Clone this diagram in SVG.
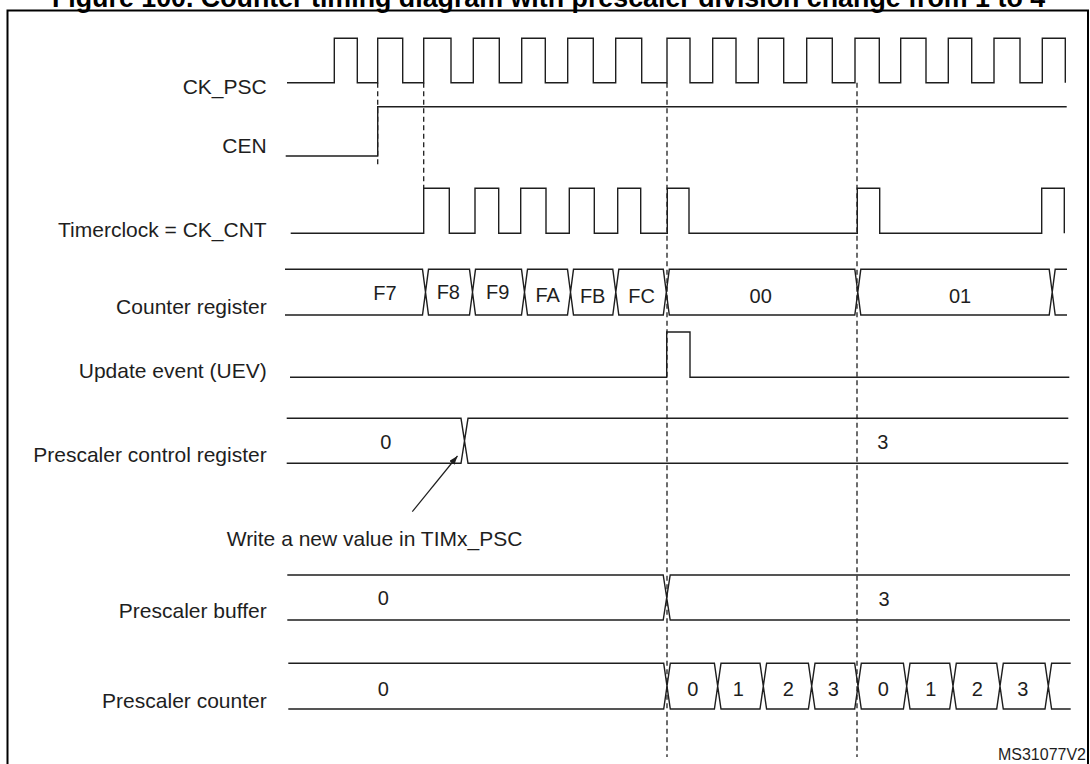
<svg xmlns="http://www.w3.org/2000/svg" width="1090" height="764" viewBox="0 0 1090 764">
<style>
  .sig { fill: none; stroke: #1e1e1e; stroke-width: 1.4; stroke-linejoin: miter; }
  .guide { fill: none; stroke: #1e1e1e; stroke-width: 1.3; stroke-dasharray: 5 3.5; }
  .name { font-family: "Liberation Sans", Arial, sans-serif; font-size: 21px; fill: #1e1e1e; text-anchor: end; }
  .val { font-family: "Liberation Sans", Arial, sans-serif; font-size: 20px; fill: #1e1e1e; text-anchor: middle; }
  .note { font-family: "Liberation Sans", Arial, sans-serif; font-size: 21px; fill: #1e1e1e; }
  .title { font-family: "Liberation Sans", Arial, sans-serif; font-size: 26.8px; font-weight: bold; fill: #000; text-anchor: middle; }
</style>
<defs>
  <marker id="arrow" viewBox="0 0 10 7" refX="10" refY="3.5" markerWidth="9" markerHeight="6.3" markerUnits="userSpaceOnUse" orient="auto">
    <path d="M0,0 L10,3.5 L0,7 z" fill="#1e1e1e"/>
  </marker>
</defs>
<rect width="1090" height="764" fill="#fff"/>
<text class="title" x="548.5" y="7">Figure 100. Counter timing diagram with prescaler division change from 1 to 4</text>
<rect x="7.5" y="10.5" width="1080.5" height="770" fill="none" stroke="#000" stroke-width="2"/>

<g id="ck_psc">
  <text class="name" x="266.7" y="94.3">CK_PSC</text>
  <path class="sig" d="M287,82.7 H334.3 V38.3 H357.3 V82.7 H377.7 V38.3 H402.7 V82.7 H423.7 V38.3 H451 V82.7 H473.3 V38.3 H499.3 V82.7 H521.7 V38.3 H545.3 V82.7 H567.7 V38.3 H593.3 V82.7 H615.7 V38.3 H641.7 V82.7 H667 V38.3 H690 V82.7 H712.7 V38.3 H736 V82.7 H758.3 V38.3 H783.7 V82.7 H806.7 V38.3 H832.3 V82.7 H855 V38.3 H879.3 V82.7 H900.7 V38.3 H926 V82.7 H948.3 V38.3 H971.7 V82.7 H994 V38.3 H1020 V82.7 H1042.3 V38.3 H1065.3 V82.7"/>
</g>

<g id="cen">
  <text class="name" x="266.7" y="153.3">CEN</text>
  <path class="sig" d="M285.7,156 H377.7 V106.7 H1066.7"/>
</g>

<g id="timerclock">
  <text class="name" x="266.7" y="236.7">Timerclock = CK_CNT</text>
  <path class="sig" d="M290.7,233.3 H423.7 V188.3 H449.3 V233.3 H475 V188.3 H498.7 V233.3 H520.7 V188.3 H546 V233.3 H569.3 V188.3 H594.3 V233.3 H617.7 V188.3 H640.7 V233.3 H667.3 V188.3 H689 V233.3 H857.3 V188.3 H879.7 V233.3 H1041.7 V188.3 H1064.3 V233.3"/>
</g>

<g id="counter_register">
  <text class="name" x="266.7" y="314">Counter register</text>
  <path class="sig" d="M285,269.3 H422.5 L425.5,292.2 L422.5,315 H285
    M428.5,269.3 H469.5 L472.5,292.2 L469.5,315 H428.5 L425.5,292.2 Z
    M475.5,269.3 H521.5 L524.5,292.2 L521.5,315 H475.5 L472.5,292.2 Z
    M527.5,269.3 H567.5 L570.5,292.2 L567.5,315 H527.5 L524.5,292.2 Z
    M573.5,269.3 H612.8 L615.8,292.2 L612.8,315 H573.5 L570.5,292.2 Z
    M618.8,269.3 H663.3 L666.3,292.2 L663.3,315 H618.8 L615.8,292.2 Z
    M669.3,269.3 H854.8 L857.8,292.2 L854.8,315 H669.3 L666.3,292.2 Z
    M860.8,269.3 H1049.2 L1052.2,292.2 L1049.2,315 H860.8 L857.8,292.2 Z
    M1067,269.3 H1055.2 L1052.2,292.2 L1055.2,315 H1067"/>
  <text class="val" x="385" y="300">F7</text>
  <text class="val" x="448.3" y="299.3">F8</text>
  <text class="val" x="497.7" y="299.3">F9</text>
  <text class="val" x="547.7" y="301.5">FA</text>
  <text class="val" x="592.7" y="303.3">FB</text>
  <text class="val" x="641.7" y="303.3">FC</text>
  <text class="val" x="760.7" y="302.7">00</text>
  <text class="val" x="960" y="302.7">01</text>
</g>

<g id="update_event">
  <text class="name" x="266.7" y="378.3">Update event (UEV)</text>
  <path class="sig" d="M290,377.3 H666.7 V332 H690 V377.3 H1069.3"/>
</g>

<g id="prescaler_control">
  <text class="name" x="266.7" y="462.3">Prescaler control register</text>
  <path class="sig" d="M286.7,418.3 H461 L464.5,440.8 L461,463.3 H286.7
    M1068.3,418.3 H468 L464.5,440.8 L468,463.3 H1068.3"/>
  <text class="val" x="385.7" y="449">0</text>
  <text class="val" x="882.7" y="449">3</text>
</g>

<g id="write_note">
  <text class="note" x="226.7" y="546">Write a new value in TIMx_PSC</text>
</g>

<g id="prescaler_buffer">
  <text class="name" x="266.7" y="618.3">Prescaler buffer</text>
  <path class="sig" d="M287.3,575 H663.2 L666.7,597.5 L663.2,620 H287.3
    M1070,575 H670.2 L666.7,597.5 L670.2,620 H1070"/>
  <text class="val" x="383.3" y="605">0</text>
  <text class="val" x="884" y="606">3</text>
</g>

<g id="prescaler_counter">
  <text class="name" x="266.7" y="708.3">Prescaler counter</text>
  <path class="sig" d="M288.3,663.3 H663.7 L667,686.2 L663.7,709 H288.3
    M670.3,663.3 H714.4 L717.7,686.2 L714.4,709 H670.3 L667,686.2 Z
    M721,663.3 H760 L763.3,686.2 L760,709 H721 L717.7,686.2 Z
    M766.6,663.3 H808.4 L811.7,686.2 L808.4,709 H766.6 L763.3,686.2 Z
    M815,663.3 H854.7 L858,686.2 L854.7,709 H815 L811.7,686.2 Z
    M861.3,663.3 H903.4 L906.7,686.2 L903.4,709 H861.3 L858,686.2 Z
    M910,663.3 H949.7 L953,686.2 L949.7,709 H910 L906.7,686.2 Z
    M956.3,663.3 H996.7 L1000,686.2 L996.7,709 H956.3 L953,686.2 Z
    M1003.3,663.3 H1045 L1048.3,686.2 L1045,709 H1003.3 L1000,686.2 Z
    M1070.7,663.3 H1051.6 L1048.3,686.2 L1051.6,709 H1070.7"/>
  <text class="val" x="383.3" y="695.5">0</text>
  <text class="val" x="692.7" y="695.5">0</text>
  <text class="val" x="738.3" y="695.5">1</text>
  <text class="val" x="788.3" y="695.5">2</text>
  <text class="val" x="833.3" y="695.5">3</text>
  <text class="val" x="883.3" y="695.5">0</text>
  <text class="val" x="930.7" y="695.5">1</text>
  <text class="val" x="977.3" y="695.5">2</text>
  <text class="val" x="1022.7" y="695.5">3</text>
</g>

<g id="guides">
  <line class="guide" x1="377.7" y1="82.7" x2="377.7" y2="165"/>
  <line class="guide" x1="423.7" y1="82.7" x2="423.7" y2="188"/>
  <line class="guide" x1="667" y1="82.7" x2="667" y2="757"/>
  <line class="guide" x1="857" y1="82.7" x2="857" y2="757"/>
</g>

<g id="connectors">
  <line x1="412.3" y1="511.7" x2="457.5" y2="456" stroke="#1e1e1e" stroke-width="1.2" marker-end="url(#arrow)"/>
</g>

<text x="1086" y="760" font-family="Liberation Sans, Arial, sans-serif" font-size="16" fill="#1e1e1e" text-anchor="end">MS31077V2</text>
</svg>
